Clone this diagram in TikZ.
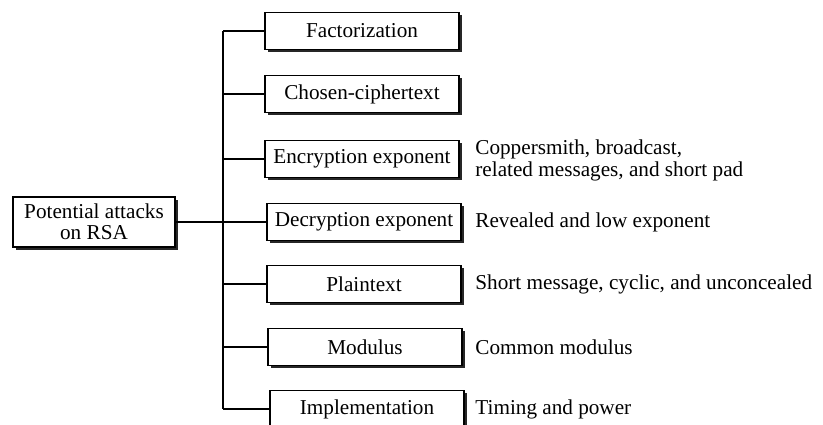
\documentclass[tikz,border=0pt]{standalone}
\usepackage{fontspec}
\setmainfont{Liberation Serif}
\usepackage{tikz}
\usetikzlibrary{shadows}

\begin{document}
\begin{tikzpicture}[x=0.5pt, y=-0.5pt]
        \tikzset{
          attack/.style = {draw, line width=0.6pt, fill=white,
            minimum width=97pt, minimum height=18.5pt, inner sep=2pt,
            font=\fontsize{10.6}{12.5}\selectfont,
            drop shadow={shadow xshift=1.3pt, shadow yshift=-1.3pt,
              fill=black!85, opacity=1}},
          note/.style = {anchor=west, align=left, inner sep=0pt,
            font=\fontsize{10.6}{11}\selectfont},
          link/.style = {line width=0.7pt}
        }
        \useasboundingbox (0,0) rectangle (823,424);
        \node[attack, minimum width=81pt, minimum height=25pt, align=center]
          (root) at (94,222) {Potential attacks\\[-2pt] on RSA};
        \coordinate (trunk) at (223,222);
        \node[attack] (fact) at (362,31) {Factorization};
        \node[attack] (chosen) at (362,94) {Chosen-ciphertext};
        \node[attack] (enc) at (362,159) {Encryption exponent};
        \node[attack] (dec) at (364,222) {Decryption exponent};
        \node[attack] (plain) at (364,284) {Plaintext};
        \node[attack] (mod) at (365,347) {Modulus};
        \node[attack] (impl) at (367,409) {Implementation};
        \node[note] (encnote) at (475,160)
          {Coppersmith, broadcast,\\ related messages, and short pad};
        \node[note] (decnote) at (475,222) {Revealed and low exponent};
        \node[note] (plainnote) at (475,284) {Short message, cyclic, and unconcealed};
        \node[note] (modnote) at (475,347) {Common modulus};
        \node[note] (implnote) at (475,409) {Timing and power};
        % tree lines
        \draw[link] (root.east) -- (trunk) -- (dec.west);
        \draw[link] (trunk |- fact.west) -- (trunk |- impl.west);
        \draw[link] (trunk |- fact.west) -- (fact.west);
        \draw[link] (trunk |- chosen.west) -- (chosen.west);
        \draw[link] (trunk |- enc.west) -- (enc.west);
        \draw[link] (trunk |- plain.west) -- (plain.west);
        \draw[link] (trunk |- mod.west) -- (mod.west);
        \draw[link] (trunk |- impl.west) -- (impl.west);
    \end{tikzpicture}
\end{document}
